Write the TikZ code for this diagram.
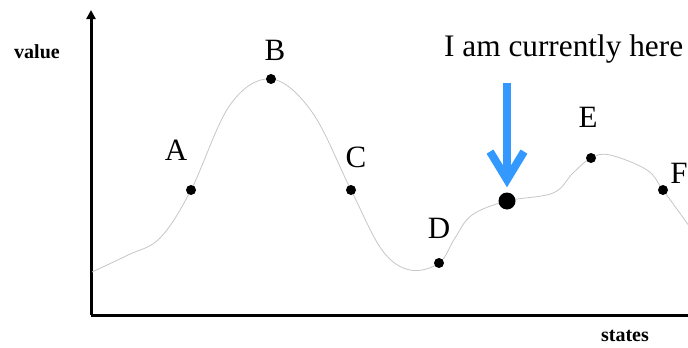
\documentclass[tikz,border=0pt]{standalone}
\usepackage{fontspec}
\setmainfont{Liberation Serif}
\usepackage{tikz}
\usetikzlibrary{arrows.meta,positioning}

\definecolor{hereblue}{RGB}{51,153,255}

\begin{document}
\begin{tikzpicture}[
    x=1pt, y=-1pt,
    axis/.style={line width=3pt, -{Triangle[length=9pt,width=9pt]}},
    curve/.style={gray!45, line width=0.8pt},
    state/.style={circle, fill=black, inner sep=0pt, minimum size=10pt},
    current/.style={circle, fill=black, inner sep=0pt, minimum size=17pt},
    letter/.style={font=\fontsize{31}{35}\selectfont},
    axislabel/.style={font=\fontsize{20}{24}\selectfont\bfseries},
    pointer/.style={hereblue, line width=8pt, -{Straight Barb[length=28pt,width=34pt]}, shorten >=5pt}
]
    \useasboundingbox (0,0) rectangle (688,348);

    % axes
    \coordinate (origin) at (91,315);
    \coordinate (ytop) at (91,10);
    \coordinate (xend) at (700,315);
    \draw[axis] (origin) -- (ytop);
    \draw[line width=3pt] (origin) -- (xend);
    \node[axislabel] (value) at (37,52) {value};
    \node[axislabel] (states) at (625,336) {states};

    % landscape
    \draw[curve] plot[smooth, tension=0.6] coordinates {
        (92,272) (128,255) (160,238) (191,190) (230,105) (271,79) (312,112)
        (351,190) (382,250) (410,270) (439,263) (455,238) (472,215) (507,201)
        (553,193) (573,173) (591,158) (610,155) (647,170) (663,190) (692,230)};

    % states
    \node[state] (A) at (191,190) {};
    \node[state] (B) at (271,79) {};
    \node[state] (C) at (351,190) {};
    \node[state] (D) at (439,263) {};
    \node[state] (E) at (591,158) {};
    \node[state] (F) at (663,190) {};
    \node[current] (here) at (507,201) {};

    \node[letter] (labA) at (176,150) {A};
    \node[letter] (labB) at (275,50) {B};
    \node[letter] (labC) at (356,157) {C};
    \node[letter] (labD) at (439,228) {D};
    \node[letter] (labE) at (588,117) {E};
    \node[letter] (labF) at (679,173) {F};

    % where we are
    \node[letter, font=\fontsize{31.3}{35}\selectfont, anchor=base west, inner sep=0pt] (note) at (444,56) {I am currently here};
    \coordinate (ptop) at (507,83);
    \draw[pointer] (ptop) -- (here);
\end{tikzpicture}
\end{document}
